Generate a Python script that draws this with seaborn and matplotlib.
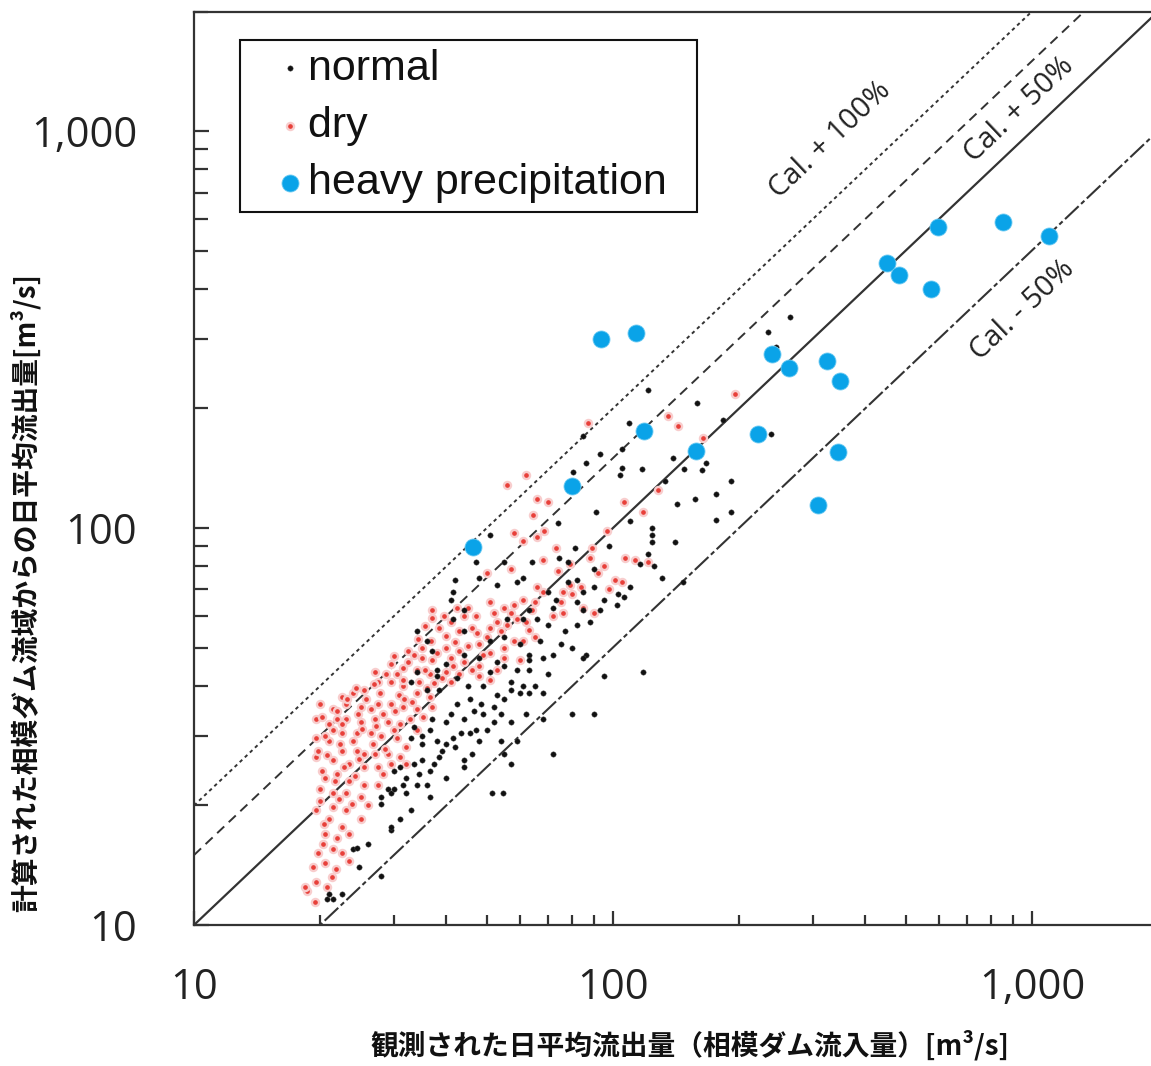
import matplotlib
matplotlib.use("Agg")
import matplotlib.pyplot as plt
import matplotlib.ticker as mticker
import seaborn as sns
import pandas as pd
import numpy as np

# ---------------- data ----------------
normal_x = [91, 124, 142, 141, 110, 74, 98, 81, 78, 61, 64, 55, 51, 47, 48, 42, 41.5, 41, 53, 59,
            78, 82, 90, 103, 106, 102, 125, 131, 95, 85, 82, 73, 70, 72, 63, 66, 61, 56, 44, 41.5,
            34, 36, 37, 44, 51, 55, 60, 63, 67, 75, 80, 86, 63, 68, 55, 51, 53, 48, 44, 40,
            38, 38, 34, 33, 36, 38.5, 42.5, 45, 49, 53, 57, 60, 61, 63, 68, 54, 49, 45.5, 42.5, 41,
            44, 40, 37, 36.5, 35, 33.5, 33, 35, 38, 40, 41.5, 45.5, 47, 52, 57, 62, 68, 80, 90, 95,
            118, 85, 54, 59, 55, 46, 44, 38.5, 40, 36.5, 35, 33.5, 31, 30, 31.5, 29, 29.5, 28, 28, 30,
            32, 34, 36, 36.5, 51.5, 54.5, 57, 72, 29.5, 29.5, 28, 24, 24.5, 20.8, 21.5, 21,
            265, 235, 245, 121, 159, 183, 109, 85, 93, 86, 80.5, 105, 105, 104, 117, 139, 148, 163, 167,
            133, 239, 191, 176, 157, 191, 176, 124, 74.5, 116, 121, 124, 147, 110, 90, 85,
            32, 34.5, 37.5, 39, 42, 43.5, 46.5, 48.5, 50, 52, 55, 57, 59, 63, 65, 70, 72, 77, 82, 88,
            93, 70, 48, 44, 33, 31, 26, 22.5, 24.8]
normal_y = [110, 100, 115, 92, 104, 103, 90, 89, 82, 75, 82, 82, 96, 82, 75, 74, 69, 66, 72, 73,
            73, 74, 79, 68, 67, 64, 80, 75, 66, 62, 65, 66, 69, 63, 62, 59, 59, 59, 62, 59,
            55, 52, 49, 55, 52, 53, 51, 48, 52, 51, 50, 48, 46.5, 47, 45, 43.5, 46, 47, 48, 45.5,
            44, 42.5, 43.5, 41, 39, 39, 42, 40, 40, 38, 39, 38.5, 40, 38.5, 38.5, 34, 34, 37, 36, 34,
            33, 32.5, 33, 31, 30, 31.5, 29.5, 28.5, 29, 28.5, 29.5, 30.5, 31, 32.5, 32.5, 34, 33, 34, 34, 42.5,
            43.5, 47, 29, 29, 27, 27, 26, 26.5, 23.5, 24.5, 26, 25.5, 25, 24.5, 22.5, 22, 21.5, 21, 20.2, 22,
            21.5, 22.5, 22.5, 21, 21.5, 21.5, 25.5, 27, 17.3, 17.7, 13.3, 15.5, 15.6, 11.6, 11.6, 12,
            340, 311, 286, 223, 206, 187, 184, 171, 154, 146, 138, 158, 142, 136, 141, 150, 141, 140, 146,
            131, 173, 131, 122, 118, 110, 105, 96, 84, 81, 86, 92, 73, 71, 71, 69,
            23.5, 24, 25.5, 27.5, 28, 30.5, 34.5, 36, 31, 35.5, 37, 41, 44, 44, 40, 43, 48, 55, 57, 58,
            62, 57, 29, 25, 19.5, 18.5, 16, 12, 14]

dry_x = [196, 135, 143, 87, 164, 128, 106, 118, 70, 97, 89, 73, 79, 107, 113, 121, 92, 79, 101, 105,
         98, 76, 64.5, 58, 61, 66, 68.5, 50, 57, 85, 90, 75, 76, 68, 37, 45, 51, 55, 57, 61,
         65, 37, 41, 46, 47.5, 51, 53, 59, 63, 65, 61, 55, 48, 43, 40, 35, 32.5, 35, 37, 41,
         44, 48, 51, 55, 60, 29.5, 31.5, 34, 36.5, 40, 43, 48, 51, 27, 27.5, 29.5, 31.5, 34, 36.5, 24,
         25.5, 22.5, 23, 25, 27.5, 29.5, 31.5, 34, 37, 23, 25, 27, 29, 31, 34, 22, 21, 21.5, 22.5,
         24.5, 26.5, 28, 30.5, 19.5, 21, 22.5, 24.5, 27, 29, 31, 19.6, 21.5, 23.5, 25.5, 27.5, 29.5, 32,
         20.5, 22, 23.5, 25.5, 27.5, 20, 21.5, 23, 25, 20, 21.5, 23, 25, 21, 22.5, 20.5, 22, 23.5,
         20.3, 21.5, 22.5, 20.5, 21.3, 19.6, 20.8, 18.6, 19.4, 18.4, 19.5, 20, 56, 62, 66,
         19.2, 19.8, 20.4, 19.5, 20.2, 19.8, 20.6, 20.2, 21.5, 20.8,
         21.8, 22.2, 21.7, 22.8, 22.3, 21.9, 22.6, 23.2, 23.5,
         23.8, 24.2, 24.8, 24, 25.2, 24.6, 25.8, 24.4, 26, 25.5,
         26.8, 27.2, 26.5, 28.3, 27.8, 28.6, 26.9, 28.8, 28.2,
         30, 30.2, 30.8, 31.5, 32, 32.8, 30.5, 31.8, 32.5, 30,
         33.2, 34.5, 35.5, 33.5, 36, 35.2, 37.5, 36.8, 34.2, 38, 38.5, 35.5,
         39, 40, 41.5, 42, 43, 44, 39.5, 42.5, 45, 41,
         46, 47, 49, 50, 52, 53, 54, 56, 58, 58, 62, 64, 66,
         72, 74, 80, 84, 88, 68, 95]
dry_y = [218, 191, 181, 184, 169, 125, 116, 110, 116, 98, 89, 89, 81, 84, 83, 82, 77, 72, 74, 73,
         70, 69, 108, 97, 93, 95, 98.5, 77, 79, 63, 61, 65, 61, 69, 62, 63, 65, 63, 61, 66,
         65, 59.5, 58, 56, 54.5, 56, 58, 59, 55.5, 53, 52, 50, 51, 49, 50, 50, 49, 47, 46.5, 47,
         46, 45, 48.5, 47, 46.5, 45.5, 44.5, 44, 43, 43.5, 43, 42.5, 41.5, 43.5, 41, 41, 40, 38.5, 37.5, 38.5,
         39, 37.5, 36, 35.5, 36, 36, 35.5, 35, 35.5, 33, 32.5, 33, 32.5, 32, 31, 33, 32, 31, 30.5,
         30.5, 30.5, 30, 29.5, 29.5, 29, 27.5, 27.5, 27, 27, 26.5, 26.5, 26, 25.5, 25, 25, 25.5, 25.5,
         23.5, 24, 23, 22.5, 22.5, 22, 21.5, 21.5, 21, 20.5, 19.8, 19.5, 18.5, 18.5, 17.7, 17, 16.6, 17,
         16, 15.5, 15.2, 14.3, 13.2, 12.8, 12.5, 12.2, 11.4, 12.5, 33, 36, 128, 136, 118,
         14, 15.2, 18, 19.5, 24.5, 27.5, 30, 33.5, 35, 26.8,
         13.8, 20.8, 23, 25, 28.5, 34.5, 32, 37, 14.5,
         20.2, 23.8, 26.2, 29, 31.2, 34, 37, 39.5, 20, 27,
         28.5, 31.8, 35, 34, 38.5, 27.8, 40.5, 43, 24,
         31, 34.5, 38, 41.5, 28, 33, 42.8, 37, 46, 47.5,
         36.5, 41, 44, 48, 39.5, 33.5, 40.8, 52, 52.5, 48.5, 56, 56.5,
         42, 53.5, 45, 51.5, 55, 60, 60, 63, 50.5, 41,
         44, 60, 48, 53, 61, 44, 55, 57, 52, 64, 58, 62, 71,
         60, 78, 68, 71, 84, 83, 80]

heavy_x = [46.4, 79.7, 93.5, 113.5, 118.4, 157.6, 222, 240, 263, 309, 325, 348, 344, 450, 481, 574, 598, 854, 1100]
heavy_y = [89.7, 127.8, 300, 310, 175.5, 156.3, 173, 274, 253, 114, 263, 235, 155, 466, 434, 399, 572, 591, 544]

ratio_factors = [2.0, 1.5, 1.0, 0.5]
ratio_labels = ["Cal. + 100%", "Cal. + 50%", None, "Cal. - 50%"]
legend_labels = ["normal", "dry", "heavy precipitation"]
x_ticks = [10, 100, 1000]
y_ticks = [10, 100, 1000]
xlabel = "観測された日平均流出量（相模ダム流入量）[m³/s]"
ylabel = "計算された相模ダム流域からの日平均流出量[m³/s]"

df = pd.concat([
    pd.DataFrame({"obs": normal_x, "calc": normal_y, "cond": legend_labels[0]}),
    pd.DataFrame({"obs": dry_x, "calc": dry_y, "cond": legend_labels[1]}),
    pd.DataFrame({"obs": heavy_x, "calc": heavy_y, "cond": legend_labels[2]}),
], ignore_index=True)

# ---------------- style ----------------
sns.set_theme(style="white")
plt.rcParams["font.family"] = ["Open Sans", "DejaVu Sans"]

W, H = 1151, 1066
fig = plt.figure(figsize=(W / 100, H / 100), dpi=100)
ax = fig.add_axes([194 / W, (H - 925) / H, 964 / W, 913.5 / H])
ax.set_xscale("log")
ax.set_yscale("log")
ax.set_xlim(10, 2000)
ax.set_ylim(10, 2000)

line_col = "#333333"
xs = np.array([10.0, 2000.0])
styles = [dict(dashes=(1.8, 1.8), lw=1.4), dict(dashes=(5, 3.2), lw=1.4),
          dict(ls="-", lw=1.6), dict(dashes=(9, 1.6, 2.2, 1.6), lw=1.5)]
for f, st in zip(ratio_factors, styles):
    ax.plot(xs, xs * f, color=line_col, zorder=1, **st)

sns.scatterplot(data=df[df.cond == "dry"], x="obs", y="calc", ax=ax, s=26,
                color="#E8403A", edgecolor="#F8CDCD", linewidth=1.7, label="dry", zorder=2)
sns.scatterplot(data=df[df.cond == "normal"], x="obs", y="calc", ax=ax, s=15,
                color="#111111", edgecolor="#555555", linewidth=0.3, label="normal", zorder=3)
sns.scatterplot(data=df[df.cond == "heavy precipitation"], x="obs", y="calc", ax=ax, s=150,
                color="#0AA3E8", edgecolor="#6CCAF2", linewidth=0.6,
                label="heavy precipitation", zorder=4)

# annotations along the reference lines
ann_font = dict(fontsize=21, color="#222222", rotation=43.5, rotation_mode="anchor",
                ha="center", va="center", family=["Open Sans", "DejaVu Sans"])
ax.text(330, 948, ratio_labels[0], **ann_font)
ax.text(935, 1130, ratio_labels[1], **ann_font)
ax.text(950, 354, ratio_labels[3], **ann_font)

# spines & ticks
for side in ["left", "bottom", "top"]:
    ax.spines[side].set_visible(True)
    ax.spines[side].set_color("#333333")
    ax.spines[side].set_linewidth(1.6)
ax.spines["right"].set_visible(False)

fmt = mticker.FuncFormatter(lambda v, p: f"{int(round(v)):,}")
ax.xaxis.set_major_locator(mticker.FixedLocator(x_ticks))
ax.yaxis.set_major_locator(mticker.FixedLocator(y_ticks))
ax.xaxis.set_minor_locator(mticker.LogLocator(base=10, subs=np.arange(2, 10)))
ax.yaxis.set_minor_locator(mticker.LogLocator(base=10, subs=np.arange(2, 10)))
ax.xaxis.set_major_formatter(fmt)
ax.yaxis.set_major_formatter(fmt)
ax.xaxis.set_minor_formatter(mticker.NullFormatter())
ax.yaxis.set_minor_formatter(mticker.NullFormatter())

ax.tick_params(axis="x", which="major", direction="in", length=10, width=1.6, color="#333333",
               labelsize=30, pad=30, labelcolor="#222222", bottom=True, top=False)
ax.tick_params(axis="x", which="minor", direction="in", length=7, width=1.6, color="#333333",
               bottom=True, top=False)
ax.tick_params(axis="y", which="major", direction="in", length=11, width=1.6, color="#333333",
               labelsize=30, pad=41, labelcolor="#222222", left=True, right=False)
ax.tick_params(axis="y", which="minor", direction="in", length=10, width=1.6, color="#333333",
               left=True, right=False)

cjk = ["Noto Sans CJK JP", "DejaVu Sans"]
ax.set_xlabel(xlabel, fontsize=20, fontweight="bold", family=cjk, color="#111111")
ax.set_ylabel(ylabel, fontsize=20, fontweight="bold", family=cjk, color="#111111")
ax.xaxis.set_label_coords(0.5145, -0.1314)
ax.yaxis.set_label_coords(-0.1753, 0.3645)
ax.xaxis.label.set_va("center")
ax.yaxis.label.set_va("center")

handles, labels = ax.get_legend_handles_labels()
order = [labels.index(l) for l in legend_labels]
leg = ax.legend([handles[i] for i in order], [labels[i] + "\u2002" for i in order],
                loc="upper left", bbox_to_anchor=(0.0477, 0.9688), borderaxespad=0,
                frameon=True, fancybox=False, shadow=False, edgecolor="#111111",
                prop=dict(family=["Liberation Sans", "DejaVu Sans"], size=31),
                handlelength=1.93, handletextpad=-0.55, borderpad=0.2, labelspacing=0.4,
                scatterpoints=1, framealpha=1)
leg.get_frame().set_linewidth(1.5)
for t in leg.get_texts():
    t.set_color("#111111")

fig.savefig("out.png", dpi=100)
